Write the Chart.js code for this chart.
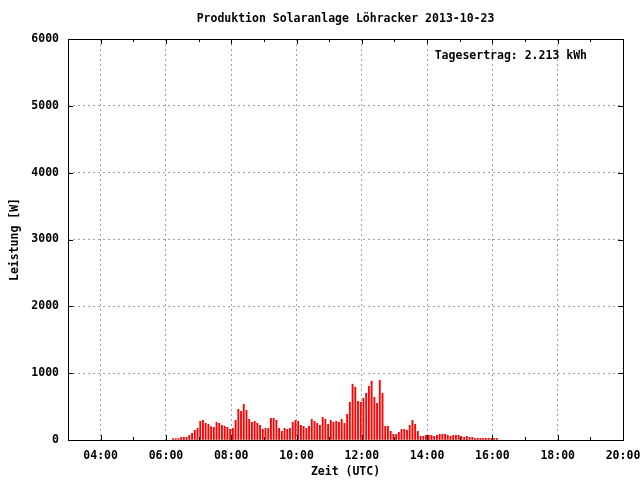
<!DOCTYPE html>
<html>
<head>
<meta charset="utf-8">
<script src="https://cdn.jsdelivr.net/npm/chart.js@4/dist/chart.umd.min.js"></script>
<style>
html, body { margin: 0; padding: 0; background: #fff; }
</style>
</head>
<body>
<canvas id="myChart" width="640" height="480"></canvas>
<script>
const titleText = 'Produktion Solaranlage Löhracker 2013-10-23';
const yieldText = 'Tagesertrag: 2.213 kWh';

// 5 minute samples (UTC)
const times = [
  '06:13','06:18','06:23','06:28','06:33','06:38','06:43','06:48','06:53','06:58',
  '07:03','07:08','07:13','07:18','07:23','07:28','07:33','07:38','07:43','07:48','07:53','07:58',
  '08:03','08:08','08:13','08:18','08:23','08:28','08:33','08:38','08:43','08:48','08:53','08:58',
  '09:03','09:08','09:13','09:18','09:23','09:28','09:33','09:38','09:43','09:48','09:53','09:58',
  '10:03','10:08','10:13','10:18','10:23','10:28','10:33','10:38','10:43','10:48','10:53','10:58',
  '11:03','11:08','11:13','11:18','11:23','11:28','11:33','11:38','11:43','11:48','11:53','11:58',
  '12:03','12:08','12:13','12:18','12:23','12:28','12:33','12:38','12:43','12:48','12:53','12:58',
  '13:03','13:08','13:13','13:18','13:23','13:28','13:33','13:38','13:43','13:48','13:53','13:58',
  '14:03','14:08','14:13','14:18','14:23','14:28','14:33','14:38','14:43','14:48','14:53','14:58',
  '15:03','15:08','15:13','15:18','15:23','15:28','15:33','15:38','15:43','15:48','15:53','15:58',
  '16:03','16:08'
];

// Leistung [W]
const watts = [
  20, 20, 20, 40, 40, 40, 70, 100, 145, 175,
  280, 295, 250, 235, 200, 190, 265, 250, 220, 205, 190, 160,
  175, 295, 460, 430, 535, 445, 310, 265, 280, 250, 220, 160,
  175, 175, 325, 325, 295, 175, 130, 175, 160, 175, 265, 295,
  280, 220, 205, 175, 205, 310, 280, 250, 220, 340, 310, 235,
  295, 265, 280, 265, 310, 250, 385, 565, 835, 790, 580, 565,
  625, 700, 805, 880, 640, 550, 895, 700, 205, 205, 130, 85,
  85, 115, 160, 160, 145, 220, 295, 235, 130, 55, 55, 70,
  70, 70, 55, 70, 85, 85, 85, 70, 55, 70, 70, 70,
  55, 40, 55, 40, 40, 25, 25, 25, 25, 25, 25, 25,
  25, 25
];

const xStart = '03:00';
const xEnd = '20:00';
const xTickLabels = ['04:00', '06:00', '08:00', '10:00', '12:00', '14:00', '16:00', '18:00', '20:00'];
const xMinorLabels = ['05:00', '07:00', '09:00', '11:00', '13:00', '15:00', '17:00', '19:00'];
const yTicks = [0, 1000, 2000, 3000, 4000, 5000, 6000];

function toMinutes(t) {
  const p = t.split(':');
  return Number(p[0]) * 60 + Number(p[1]);
}
function toClock(m) {
  const h = Math.floor(m / 60), mm = m % 60;
  return String(h).padStart(2, '0') + ':' + String(mm).padStart(2, '0');
}

const font = { family: '"DejaVu Sans Mono", monospace', size: 11.5, weight: 'bold' };
const gridGrey = '#a0a0a0';

// gnuplot style frame, inward ticks and the label in the corner
const framePlugin = {
  id: 'frame',
  afterDatasetsDraw(chart) {
    const ctx = chart.ctx;
    const a = chart.chartArea;
    const x = chart.scales.x, y = chart.scales.y;
    ctx.save();
    ctx.strokeStyle = '#000';
    ctx.lineWidth = 1;
    ctx.beginPath();
    xTickLabels.forEach(t => {
      const px = Math.round(x.getPixelForValue(toMinutes(t))) + 0.5;
      ctx.moveTo(px, a.bottom); ctx.lineTo(px, a.bottom - 5);
      ctx.moveTo(px, a.top); ctx.lineTo(px, a.top + 5);
    });
    xMinorLabels.forEach(t => {
      const px = Math.round(x.getPixelForValue(toMinutes(t))) + 0.5;
      ctx.moveTo(px, a.bottom); ctx.lineTo(px, a.bottom - 3);
      ctx.moveTo(px, a.top); ctx.lineTo(px, a.top + 3);
    });
    yTicks.forEach(v => {
      const py = Math.round(y.getPixelForValue(v)) + 0.5;
      ctx.moveTo(a.left, py); ctx.lineTo(a.left + 5, py);
      ctx.moveTo(a.right, py); ctx.lineTo(a.right - 5, py);
    });
    ctx.stroke();
    ctx.strokeRect(Math.round(a.left) + 0.5, Math.round(a.top) + 0.5,
      Math.round(a.right - a.left), Math.round(a.bottom - a.top));

    ctx.font = 'bold 11.5px "DejaVu Sans Mono", monospace';
    ctx.fillStyle = '#000';
    ctx.textAlign = 'right';
    ctx.textBaseline = 'middle';
    ctx.fillText(yieldText, a.right - 36, a.top + 17);
    ctx.restore();
  }
};

const data = {
  datasets: [{
    label: 'Leistung',
    data: times.map((t, i) => ({ x: toMinutes(t), y: watts[i] })),
    backgroundColor: '#ff0000',
    borderWidth: 0,
    barThickness: 1.2
  }]
};

const config = {
  type: 'bar',
  data: data,
  options: {
    responsive: false,
    animation: false,
    devicePixelRatio: 1,
    layout: { padding: 0 },
    plugins: {
      legend: { display: false },
      tooltip: { enabled: false }
    },
    scales: {
      x: {
        type: 'linear',
        position: 'bottom',
        offset: false,
        min: toMinutes(xStart),
        max: toMinutes(xEnd),
        afterBuildTicks: s => { s.ticks = xTickLabels.map(t => ({ value: toMinutes(t) })); },
        afterFit: s => { s.height = 40; s.paddingLeft = 0; s.paddingRight = 17; },
        ticks: {
          callback: v => toClock(v),
          font: font,
          color: '#000',
          padding: 9,
          maxRotation: 0,
          autoSkip: false
        },
        grid: {
          offset: false,
          drawTicks: false,
          color: c => (c.tick && c.tick.value > toMinutes(xStart) && c.tick.value < toMinutes(xEnd)) ? gridGrey : 'rgba(0,0,0,0)'
        },
        border: { display: false, dash: [2, 3] },
        title: {
          display: true,
          text: 'Zeit (UTC)',
          font: font,
          color: '#000',
          padding: { top: 0, bottom: 1 }
        }
      },
      xTop: {
        type: 'linear',
        position: 'top',
        afterFit: s => { s.height = 39; s.paddingLeft = 0; s.paddingRight = 0; },
        ticks: { display: false },
        grid: { display: false },
        border: { display: false },
        title: {
          display: true,
          text: titleText,
          font: font,
          color: '#000',
          padding: { top: 12.5, bottom: 0 }
        }
      },
      y: {
        type: 'linear',
        position: 'left',
        min: 0,
        max: 6000,
        afterBuildTicks: s => { s.ticks = yTicks.map(v => ({ value: v })); },
        afterFit: s => { s.width = 68; s.paddingTop = 0; s.paddingBottom = 0; },
        ticks: {
          callback: v => String(v),
          font: font,
          color: '#000',
          padding: 9
        },
        grid: {
          drawTicks: false,
          color: c => (c.tick && c.tick.value > 0 && c.tick.value < 6000) ? gridGrey : 'rgba(0,0,0,0)'
        },
        border: { display: false, dash: [2, 3] },
        title: {
          display: true,
          text: 'Leistung [W]',
          font: font,
          color: '#000',
          padding: { top: 8, bottom: 0 }
        }
      }
    }
  },
  plugins: [framePlugin]
};

const myChart = new Chart(document.getElementById('myChart'), config);
</script>
</body>
</html>
